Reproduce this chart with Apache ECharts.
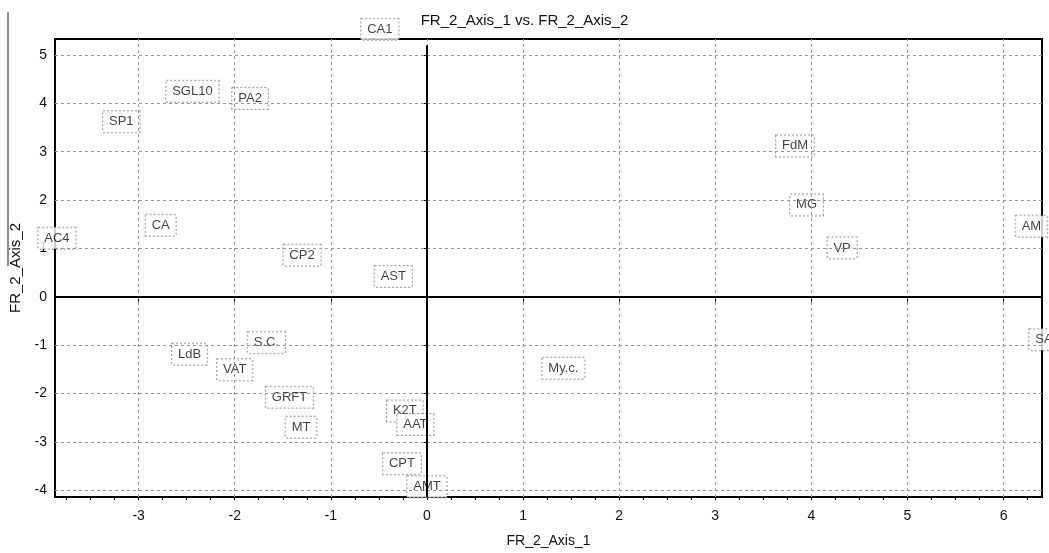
<!DOCTYPE html>
<html>
<head>
<meta charset="utf-8">
<script src="https://cdn.jsdelivr.net/npm/echarts@6/dist/echarts.min.js"></script>
<style>
  html, body { margin: 0; padding: 0; background: #fff; }
  #chart { width: 1049px; height: 553px; }
</style>
</head>
<body>
<div id="chart"></div>
<script>
// observations (FR_2 factor scores)
var names = ['CA1', 'SGL10', 'PA2', 'SP1', 'FdM', 'MG', 'CA', 'AM', 'AC4', 'VP', 'CP2', 'AST', 'SA',
  'S.C.', 'LdB', 'My.c.', 'VAT', 'GRFT', 'K2T', 'AAT', 'MT', 'CPT', 'AMT'];
var axis1 = [-0.49, -2.44, -1.84, -3.18, 3.83, 3.95, -2.77, 6.29, -3.85, 4.32, -1.30, -0.35, 6.42,
  -1.67, -2.47, 1.42, -2.00, -1.43, -0.23, -0.12, -1.31, -0.26, 0.00];
var axis2 = [5.53, 4.25, 4.10, 3.62, 3.12, 1.90, 1.48, 1.46, 1.21, 1.01, 0.86, 0.42, -0.89,
  -0.95, -1.19, -1.48, -1.51, -2.08, -2.36, -2.64, -2.70, -3.45, -3.93];

// tick labels
var xTicks = [-3, -2, -1, 0, 1, 2, 3, 4, 5, 6];
var yTicks = [-4, -3, -2, -1, 0, 1, 2, 3, 4, 5];
var xRange = [-3.87, 6.40];
var yRange = [-4.14, 5.33];
var zeroLineTop = 5.2; // vertical zero line stops a little under the frame

var FONT = 'Liberation Sans';

// quarter-unit minor ticks along the bottom
var xMinor = [];
for (var v = Math.ceil(xRange[0] * 4) / 4; v <= xRange[1]; v += 0.25) {
  xMinor.push(Math.round(v * 100) / 100);
}

var points = names.map(function (n, i) {
  return { name: n, value: [axis1[i], axis2[i]] };
});

var chart = echarts.init(document.getElementById('chart'));

var gridDash = { color: '#999', width: 1, type: [3, 3] };

var option = {
  animation: false,
  title: {
    text: 'FR_2_Axis_1 vs. FR_2_Axis_2',
    left: 'center',
    top: 13,
    padding: 0,
    textStyle: { fontFamily: FONT, fontSize: 15, fontWeight: 'normal', color: '#111' }
  },
  graphic: [{
    type: 'line',
    shape: { x1: 8, y1: 12, x2: 8, y2: 266 },
    style: { stroke: '#222', lineWidth: 1 }
  }],
  grid: {
    left: 55, right: 7, top: 39, bottom: 50,
    show: true,
    borderColor: '#000',
    borderWidth: 2
  },
  xAxis: [{
    type: 'value',
    min: xRange[0], max: xRange[1],
    position: 'bottom',
    name: 'FR_2_Axis_1',
    nameLocation: 'middle',
    nameGap: 37,
    nameTextStyle: { fontFamily: FONT, fontSize: 14, color: '#111' },
    axisLine: { show: false },
    axisTick: { show: true, customValues: xTicks, length: 5, lineStyle: { color: '#000' } },
    axisLabel: { customValues: xTicks, margin: 12, fontFamily: FONT, fontSize: 14, color: '#111' },
    splitLine: { show: false }
  }, {
    type: 'value',
    min: xRange[0], max: xRange[1],
    position: 'bottom',
    axisLine: { show: false },
    axisTick: { show: true, customValues: xMinor, length: 3, lineStyle: { color: '#000' } },
    axisLabel: { show: false },
    splitLine: { show: false }
  }],
  yAxis: {
    type: 'value',
    min: yRange[0], max: yRange[1],
    name: 'FR_2_Axis_2',
    nameLocation: 'middle',
    nameGap: 27,
    nameTextStyle: { fontFamily: FONT, fontSize: 15, color: '#111' },
    axisLine: { show: false },
    axisTick: { show: true, customValues: yTicks, length: 5, lineStyle: { color: '#000' } },
    axisLabel: { customValues: yTicks, margin: 8, fontFamily: FONT, fontSize: 14, color: '#111' },
    splitLine: { show: false }
  },
  series: [{
    // dashed grid
    type: 'scatter',
    data: [],
    z: 1,
    silent: true,
    markLine: {
      silent: true,
      symbol: 'none',
      label: { show: false },
      lineStyle: gridDash,
      data: xTicks.map(function (t) { return { xAxis: t }; })
        .concat(yTicks.map(function (t) { return { yAxis: t }; }))
    }
  }, {
    type: 'scatter',
    data: points,
    z: 3,
    clip: false,
    symbolSize: 2,
    itemStyle: { color: 'rgba(0,0,0,0)' },
    emphasis: { disabled: true },
    label: {
      show: true,
      position: 'inside',
      formatter: '{b}',
      fontFamily: FONT,
      fontSize: 13,
      color: '#111',
      backgroundColor: '#fff',
      borderColor: '#888',
      borderType: 'dotted',
      borderWidth: 1,
      padding: [4, 6]
    }
  }, {
    // zero axes drawn over the labels
    type: 'scatter',
    data: [],
    z: 5,
    silent: true,
    markLine: {
      silent: true,
      symbol: 'none',
      label: { show: false },
      lineStyle: { color: '#000', width: 2, type: 'solid' },
      data: [
        [{ coord: [0, zeroLineTop] }, { coord: [0, yRange[0]] }],
        { yAxis: 0 }
      ]
    }
  }]
};

chart.setOption(option);
</script>
</body>
</html>
